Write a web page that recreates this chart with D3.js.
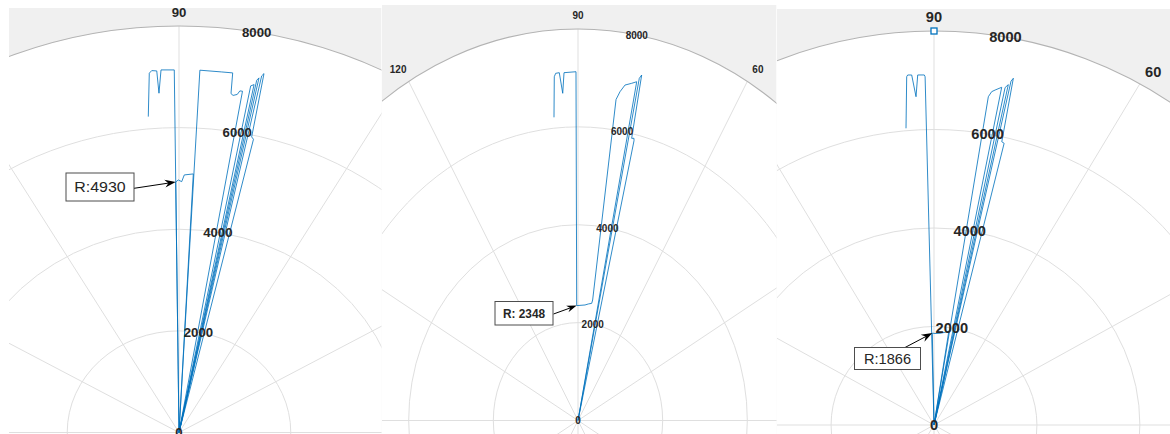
<!DOCTYPE html>
<html>
<head>
<meta charset="utf-8">
<script src="https://cdn.jsdelivr.net/npm/d3@7"></script>
<style>
  html, body { margin: 0; padding: 0; background: #ffffff; }
  svg { display: block; }
</style>
</head>
<body>
<svg id="chart" width="1170" height="434"></svg>
<script>
// ---- Scan data: bearing in degrees, range in mm (0 = no return, trace drops to the origin) ----
const thetaScan1 = [95.05, 94.3, 93.92, 93.2, 93.07, 92.58, 90.68, 90.68, 90.68, 90.14, 89.44, 88.93, 87.12, 87.12, 87.0, 83.85, 82.27, 82.06, 81.7, 81.1, 80.8, 80.4, 80.4, 79.35, 78.9, 78.9, 78.66, 78.41, 78.41, 78.1, 77.85, 77.4, 77.0, 77.0];
const rangeScan1 = [6241, 7091, 7139, 7127, 6687, 7143, 7136, 0, 4930, 4970, 4937, 5070, 5095, 0, 7140, 7137, 7142, 6734, 6704, 6734, 6810, 6812, 0, 6941, 6977, 0, 7071, 7124, 0, 7172, 7225, 5960, 5923, 0];

const thetaScan2 = [95.23, 94.56, 94.25, 93.56, 93.09, 92.66, 90.38, 90.75, 86.0, 84.2, 82.3, 82.0, 82.2, 81.6, 80.8, 79.57, 78.67, 78.67, 78.3, 77.97, 77.6, 77.08, 76.97, 76.97];
const rangeScan2 = [6221, 7047, 7114, 7121, 6696, 7115, 7127, 2348, 2366, 2393, 2416, 2486, 6620, 6791, 6944, 7006, 7060, 0, 7140, 7218, 5904, 5916, 5868, 0];

const thetaScan3 = [95.16, 94.29, 94.11, 93.49, 93.0, 92.55, 91.52, 91.4, 91.4, 91.0, 89.4, 86.4, 83.5, 81.4, 81.4, 81.0, 80.6, 80.1, 79.14, 79.14, 78.6, 78.2, 78.2, 77.9, 77.65, 77.1, 76.6, 76.6];
const rangeScan3 = [6049, 7092, 7125, 7120, 6675, 7114, 7110, 7074, 0, 1866, 1858, 1866, 1894, 1931, 0, 6749, 6860, 6904, 6982, 0, 6990, 7060, 0, 7140, 7207, 5900, 5880, 0];

// ---- Axes ----
const rLimit = 8000;
const rTickValues = [0, 2000, 4000, 6000, 8000];
const rTickLabels = ["0", "2000", "4000", "6000", "8000"];
const rTickAngle = 80;
const thetaTickValues = [0, 30, 60, 90, 120, 150, 180, 210, 240, 270, 300, 330];
const thetaTickLabels = ["0", "30", "60", "90", "120", "150", "180", "210", "240", "270", "300", "330"];

// ---- Data tips ----
const tipValues = [4930, 2348, 1866];
const tipLabels = ["R:4930", "R: 2348", "R:1866"];
const markerTheta = [90];
const markerRange = [8000];

// ---- Panel geometry (pixels) ----
const panels = [
  { theta: thetaScan1, range: rangeScan1, cx: 179, cy: 432.5, R: 406.5, k: 1.10,
    clip: [9, 8, 372.5, 426], tickFont: 12, textK: 1.1, thetaPad: 13.5, thetaNudge: 0,
    tip: { box: [66, 173, 68, 28], font: 14.5, weight: "normal", tail: [134, 188.3], head: [11, 8] },
    marker: false },
  { theta: thetaScan2, range: rangeScan2, cx: 578, cy: 420.5, R: 391.5, k: 0.865,
    clip: [382, 5, 394.5, 429], tickFont: 10.5, textK: 0.95, thetaPad: 14, thetaNudge: 4.5,
    tip: { box: [495, 301.5, 58, 23.5], font: 12.5, weight: "bold", tail: [553.5, 314], head: [10, 7] },
    marker: false },
  { theta: thetaScan3, range: rangeScan3, cx: 934, cy: 425, R: 394, k: 1.045,
    clip: [777, 9, 393, 425], tickFont: 14, textK: 1.045, thetaPad: 14, thetaNudge: 6,
    tip: { box: [854.5, 347.5, 66, 22], font: 14, weight: "normal", tail: [905, 347.5], head: [11, 8] },
    marker: true }
];

const svg = d3.select("#chart");
const defs = svg.append("defs");
const FONT = "'Liberation Sans', Arial, Helvetica, sans-serif";
const LINE_BLUE = "#0072BD";
const TEXT = "#262626";

panels.forEach((p, pi) => {
  const rY = d3.scaleLinear().domain([0, rLimit]).range([0, p.R]);
  const rX = d3.scaleLinear().domain([0, rLimit]).range([0, p.R * p.k]);
  const ang = d3.scaleLinear().domain([0, 360]).range([0, 2 * Math.PI]);
  const px = (t, r) => p.cx + rX(r) * Math.cos(ang(t));
  const py = (t, r) => p.cy - rY(r) * Math.sin(ang(t));
  const [clx, cly, clw, clh] = p.clip;
  const inside = (x, y) => x > clx + 2 && x < clx + clw - 2 && y > cly + 2 && y < cly + clh + 4;

  const clipId = "panel-clip-" + pi;
  defs.append("clipPath").attr("id", clipId)
    .append("rect")
    .attr("x", clx).attr("y", cly)
    .attr("width", clw).attr("height", clh);

  const g = svg.append("g").attr("clip-path", `url(#${clipId})`);

  // figure background around the polar axes
  g.append("rect")
    .attr("x", clx).attr("y", cly)
    .attr("width", clw).attr("height", clh)
    .attr("fill", "#f0f0f0");

  // plotting disc
  g.append("ellipse")
    .attr("cx", p.cx).attr("cy", p.cy)
    .attr("rx", rX(rLimit)).attr("ry", rY(rLimit))
    .attr("fill", "#ffffff");

  // radial grid rings
  g.selectAll("ellipse.ring")
    .data(rTickValues.filter(v => v > 0 && v < rLimit))
    .join("ellipse")
    .attr("class", "ring")
    .attr("cx", p.cx).attr("cy", p.cy)
    .attr("rx", d => rX(d)).attr("ry", d => rY(d))
    .attr("fill", "none")
    .attr("stroke", "#dfdfdf")
    .attr("stroke-width", 1);

  // angular spokes
  g.selectAll("line.spoke")
    .data(thetaTickValues)
    .join("line")
    .attr("class", "spoke")
    .attr("x1", p.cx).attr("y1", p.cy)
    .attr("x2", d => px(d, rLimit)).attr("y2", d => py(d, rLimit))
    .attr("stroke", "#dfdfdf")
    .attr("stroke-width", 1);

  // outer boundary
  g.append("ellipse")
    .attr("cx", p.cx).attr("cy", p.cy)
    .attr("rx", rX(rLimit)).attr("ry", rY(rLimit))
    .attr("fill", "none")
    .attr("stroke", "#b3b3b3")
    .attr("stroke-width", 1.1);

  // scan trace
  const idx = d3.range(p.theta.length);
  const line = d3.line()
    .x(i => px(p.theta[i], p.range[i]))
    .y(i => py(p.theta[i], p.range[i]));
  g.append("path")
    .attr("d", line(idx))
    .attr("fill", "none")
    .attr("stroke", LINE_BLUE)
    .attr("stroke-opacity", 0.82)
    .attr("stroke-width", 1)
    .attr("stroke-linejoin", "round");

  const stretchText = (sel, x, y) => sel.attr("transform", `translate(${x},${y}) scale(${p.textK},1)`);
  const tickText = (label, x, y) => {
    if (!inside(x, y)) return;
    const t = g.append("text")
      .text(label)
      .attr("text-anchor", "middle")
      .attr("dy", "0.36em")
      .attr("font-family", FONT)
      .attr("font-weight", "bold")
      .attr("font-size", p.tickFont)
      .attr("fill", TEXT);
    stretchText(t, x, y);
  };

  // r tick labels along the 80 degree direction
  rTickValues.forEach((v, i) => tickText(rTickLabels[i], px(rTickAngle, v), py(rTickAngle, v)));

  // theta tick labels outside the boundary
  const rLab = rY.invert(p.R + p.thetaPad);
  thetaTickValues.forEach((v, i) => {
    const c = Math.cos(ang(v));
    const nudge = Math.abs(c) < 1e-6 ? 0 : Math.sign(c) * p.thetaNudge;
    tickText(thetaTickLabels[i], px(v, rLab) + nudge, py(v, rLab));
  });

  // selected-point marker
  if (p.marker) {
    markerTheta.forEach((t, i) => {
      const mx = px(t, markerRange[i]), my = py(t, markerRange[i]);
      g.append("rect")
        .attr("x", mx - 3).attr("y", my - 3)
        .attr("width", 6).attr("height", 6)
        .attr("fill", "#ffffff")
        .attr("stroke", LINE_BLUE)
        .attr("stroke-width", 1.3);
    });
  }

  // data tip: arrow to the annotated sample and its label box
  const tipIndex = p.range.indexOf(tipValues[pi]);
  const tx = px(p.theta[tipIndex], p.range[tipIndex]);
  const ty = py(p.theta[tipIndex], p.range[tipIndex]);
  const [ax, ay] = p.tip.tail;
  const dir = Math.atan2(ty - ay, tx - ax);
  const [hl, hw] = p.tip.head;
  g.append("line")
    .attr("x1", ax).attr("y1", ay)
    .attr("x2", tx - Math.cos(dir) * hl * 0.6).attr("y2", ty - Math.sin(dir) * hl * 0.6)
    .attr("stroke", "#000")
    .attr("stroke-width", 1);
  const headPts = [[0, 0], [-hl, -hw / 2], [-hl * 0.68, 0], [-hl, hw / 2]];
  g.append("polygon")
    .attr("points", headPts.map(q => q.join(",")).join(" "))
    .attr("transform", `translate(${tx},${ty}) rotate(${dir * 180 / Math.PI})`)
    .attr("fill", "#000");

  const [bx, by, bw, bh] = p.tip.box;
  g.append("rect")
    .attr("x", bx).attr("y", by)
    .attr("width", bw).attr("height", bh)
    .attr("fill", "#ffffff")
    .attr("stroke", "#4d4d4d")
    .attr("stroke-width", 1);
  const lab = g.append("text")
    .text(tipLabels[pi])
    .attr("text-anchor", "middle")
    .attr("dy", "0.36em")
    .attr("font-family", FONT)
    .attr("font-weight", p.tip.weight)
    .attr("font-size", p.tip.font)
    .attr("fill", TEXT);
  stretchText(lab, bx + bw / 2, by + bh / 2);
});
</script>
</body>
</html>
